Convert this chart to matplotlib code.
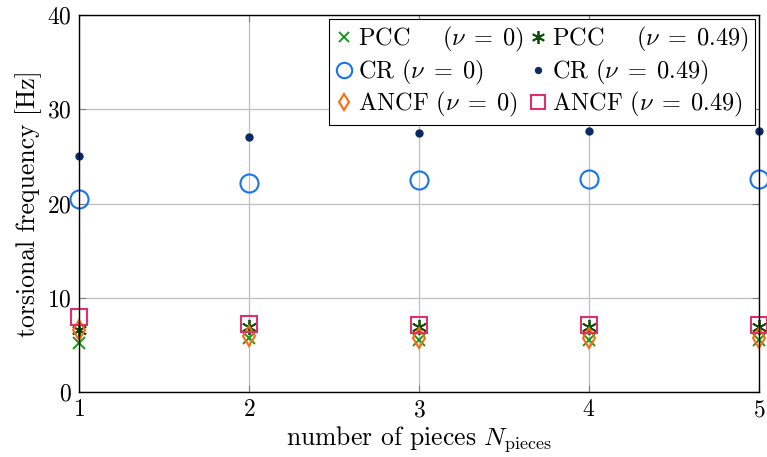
import matplotlib
matplotlib.use("Agg")
import matplotlib.pyplot as plt

pieces = [1, 2, 3, 4, 5]
pcc_nu0 = [5.2, 5.7, 5.5, 5.5, 5.5]
pcc_nu049 = [6.6, 6.9, 6.9, 6.9, 6.9]
cr_nu0 = [20.5, 22.2, 22.5, 22.6, 22.6]
cr_nu049 = [25.0, 27.1, 27.5, 27.7, 27.7]
ancf_nu0 = [6.6, 5.9, 5.7, 5.7, 5.7]
ancf_nu049 = [8.0, 7.2, 7.1, 7.1, 7.1]

plt.rcParams['font.family'] = 'serif'
plt.rcParams['font.serif'] = ['cmr10']
plt.rcParams['mathtext.fontset'] = 'cm'
plt.rcParams['axes.formatter.use_mathtext'] = True
plt.rcParams['axes.unicode_minus'] = False

fig = plt.figure(figsize=(7.67, 4.57), dpi=100)
ax = fig.add_axes([79/767, 65/457, 680/767, 377/457])

h1, = ax.plot(pieces, pcc_nu0, 'x', color='#1a9a1a', ms=9, mew=1.4, ls='none', label=r'PCC    $(\nu\;=\;0)$')
h2, = ax.plot(pieces, pcc_nu049, marker=(6, 2, 0), color='#0b4f0b', ms=11, mew=1.3, ls='none', label=r'PCC    $(\nu\;=\;0.49)$')
h3, = ax.plot(pieces, cr_nu0, 'o', mfc='none', mec='#1a73e8', ms=13, mew=1.5, ls='none', label=r'CR $(\nu\;=\;0)$')
h4, = ax.plot(pieces, cr_nu049, 'o', color='#0a2a66', ms=5, ls='none', label=r'CR $(\nu\;=\;0.49)$')
h5, = ax.plot(pieces, ancf_nu0, 'd', mfc='none', mec='#ff6a10', ms=10, mew=1.5, ls='none', label=r'ANCF $(\nu\;=\;0)$')
h6, = ax.plot(pieces, ancf_nu049, 's', mfc='none', mec='#e0306a', ms=12, mew=1.5, ls='none', label=r'ANCF $(\nu\;=\;0.49)$')

for h in (h1, h2, h3, h4, h5, h6):
    h.set_clip_on(False)

ax.set_xlim(1, 5)
ax.set_ylim(0, 40)
ax.set_xticks([1, 2, 3, 4, 5])
ax.set_yticks([0, 10, 20, 30, 40])
ax.grid(True, color='#bfbfbf', lw=0.9)
ax.set_axisbelow(True)
ax.tick_params(direction='in', top=True, right=True, labelsize=17, length=5, color='#808080', pad=5)
for s in ax.spines.values():
    s.set_linewidth(1.0)
ax.set_xlabel(r'number of pieces $N_{\mathrm{pieces}}$', fontsize=18.5, labelpad=2)
ax.set_ylabel(r'torsional frequency [Hz]', fontsize=18.5, labelpad=4)

leg = ax.legend([h1, h3, h5, h2, h4, h6],
                [h.get_label() for h in (h1, h3, h5, h2, h4, h6)],
                ncol=2, loc='upper right', fontsize=17.5, markerscale=0.85,
                handlelength=0.7, handletextpad=0.25, columnspacing=0.2,
                labelspacing=0.15, borderpad=0.25, borderaxespad=0.15,
                fancybox=False, framealpha=1, edgecolor='black')
leg.get_frame().set_linewidth(0.8)

fig.savefig('out.png', dpi=100)
